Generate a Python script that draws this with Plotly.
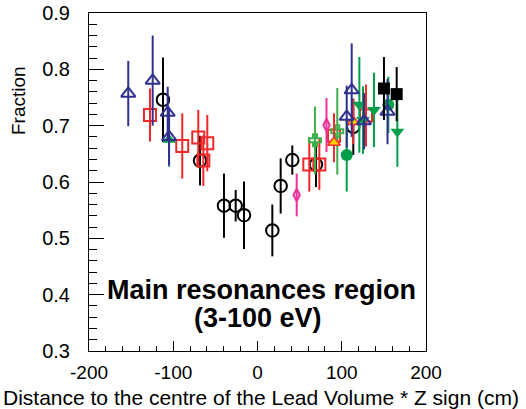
import plotly.graph_objects as go

FONT = "Liberation Sans, Arial, sans-serif"

# ---------------- data ----------------
# black open circles
circ_x = [-112.2, -68.2, -39.8, -25.9, -16.0, 17.6, 27.5, 41.3, 69.4, 113.7]
circ_y = [0.746, 0.638, 0.558, 0.558, 0.541, 0.514, 0.593, 0.639, 0.631, 0.698]
circ_e = [0.075, 0.044, 0.057, 0.028, 0.060, 0.046, 0.049, 0.026, 0.040, 0.050]

# red open squares
sq_x = [-127.6, -89.3, -70.3, -59.6, -64.3, 61.5, 73.4, 90.8, 128.8]
sq_y = [0.719, 0.664, 0.679, 0.669, 0.638, 0.631, 0.631, 0.682, 0.718]
sq_e = [0.047, 0.058, 0.049, 0.050, 0.045, 0.048, 0.045, 0.040, 0.055]

# magenta open diamonds
dia_x = [46.5, 81.9]
dia_y = [0.577, 0.701]
dia_e = [0.038, 0.048]

# green open crosses
cro_x = [68.2, 94.7]
cro_y = [0.674, 0.690]
cro_e = [0.060, 0.077]

# yellow triangles
yel_x = [90.8, 113.7]
yel_y = [0.670, 0.707]
yel_e = [0.035, 0.040]

# green filled circles
gc_x = [105.9, 155.3]
gc_y = [0.648, 0.737]
gc_e = [0.065, 0.050]

# green filled up-triangle
gt_x = [-105.0]
gt_y = [0.675]
gt_e = [0.048]

# green filled down-triangles
gd_x = [120.9, 138.3, 166.0, 125.2]
gd_y = [0.737, 0.728, 0.689, 0.710]
gd_e = [0.085, 0.066, 0.062, 0.060]

# blue open triangles
bt_x = [-153.4, -124.4, -106.6, -105.0, 111.8, 105.9, 126.4, 154.3]
bt_y = [0.757, 0.780, 0.723, 0.680, 0.763, 0.716, 0.708, 0.725]
bt_e = [0.058, 0.080, 0.046, 0.050, 0.083, 0.055, 0.050, 0.058]

# black filled squares
ks_x = [150.1, 165.2]
ks_y = [0.766, 0.756]
ks_e = [0.056, 0.048]

x_ticks = [-200, -100, 0, 100, 200]
x_tick_labels = ["-200", "-100", "0", "100", "200"]
y_ticks = [0.3, 0.4, 0.5, 0.6, 0.7, 0.8, 0.9]

# ---------------- figure ----------------
fig = go.Figure()


def add(xs, ys, es, symbol, size, color, fill=None, lw=2, ecolor=None):
    fig.add_trace(go.Scatter(
        x=xs, y=ys, mode="markers",
        marker=dict(symbol=symbol, size=size,
                    color=fill if fill else color,
                    line=dict(color=color, width=lw)),
        error_y=dict(type="data", array=es, visible=True, width=0,
                     thickness=2, color=ecolor if ecolor else color),
        showlegend=False, hoverinfo="skip"))


add(circ_x, circ_y, circ_e, "circle-open", 12.5, "#000000")
add(sq_x, sq_y, sq_e, "square-open", 12, "#f02828")
add(dia_x, dia_y, dia_e, "diamond-tall-open", 9, "#f0309a")
add(cro_x, cro_y, cro_e, "cross-open", 10, "#3cb04a")
add(yel_x, yel_y, yel_e, "triangle-up", 11, "#f03030", fill="#ffd000", lw=1.5)
add(gc_x, gc_y, gc_e, "circle", 12, "#00a04a", fill="#00a04a", lw=0)
add(gt_x, gt_y, gt_e, "triangle-up", 12, "#00a04a", fill="#00a04a", lw=0,
    ecolor="#2a7fa0")
add(gd_x, gd_y, gd_e, "triangle-down", 12, "#00a04a", fill="#00a04a", lw=0)
add(bt_x, bt_y, bt_e, "triangle-up-open", 12.5, "#303090")
add(ks_x, ks_y, ks_e, "square", 12, "#000000", fill="#000000", lw=0)

fig.update_layout(
    width=526, height=409,
    margin=dict(l=89, r=100, t=13, b=58, autoexpand=False),
    paper_bgcolor="white", plot_bgcolor="white",
    font=dict(family=FONT, color="black"),
    xaxis=dict(range=[-200, 200], tickvals=x_ticks, ticktext=x_tick_labels,
               ticks="inside",
               ticklen=10, tickwidth=1, tickcolor="black",
               minor=dict(dtick=20, ticks="inside", ticklen=5,
                          tickcolor="black", showgrid=False),
               showline=True, linecolor="black", linewidth=1, mirror=True,
               showgrid=False, zeroline=False,
               tickfont=dict(size=19, family=FONT),
               ticklabelstandoff=4),
    yaxis=dict(range=[0.3, 0.9], tickvals=y_ticks, tickformat=".1f",
               ticks="inside", ticklen=15, tickwidth=1, tickcolor="black",
               minor=dict(dtick=0.02, tick0=0.3, ticks="inside", ticklen=8,
                          tickcolor="black", showgrid=False),
               showline=True, linecolor="black", linewidth=1, mirror=True,
               showgrid=False, zeroline=False,
               tickfont=dict(size=20, family=FONT),
               ticklabelstandoff=14),
)

fig.add_annotation(text="Fraction", xref="paper", yref="paper",
                   x=(18 - 89) / 337, y=(351 - 101) / 338, textangle=-90,
                   showarrow=False, font=dict(size=19, family=FONT),
                   xanchor="center", yanchor="middle")
fig.add_annotation(text="Distance to the centre of the Lead Volume * Z sign (cm)",
                   xref="paper", yref="paper",
                   x=(261 - 89) / 337, y=(351 - 397) / 338,
                   showarrow=False, font=dict(size=21, family=FONT),
                   xanchor="center", yanchor="middle")
fig.add_annotation(text="<b>Main resonances region</b>", xref="paper", yref="paper",
                   x=(261 - 89) / 337, y=(351 - 290) / 338,
                   showarrow=False, font=dict(size=27, family=FONT),
                   xanchor="center", yanchor="middle")
fig.add_annotation(text="<b>(3-100 eV)</b>", xref="paper", yref="paper",
                   x=(258 - 89) / 337, y=(351 - 318) / 338,
                   showarrow=False, font=dict(size=27, family=FONT),
                   xanchor="center", yanchor="middle")

fig.write_html("out.html",
               config={"displayModeBar": False},
               post_script="document.body.style.margin='0px';"
                           "document.body.style.padding='0px';")
